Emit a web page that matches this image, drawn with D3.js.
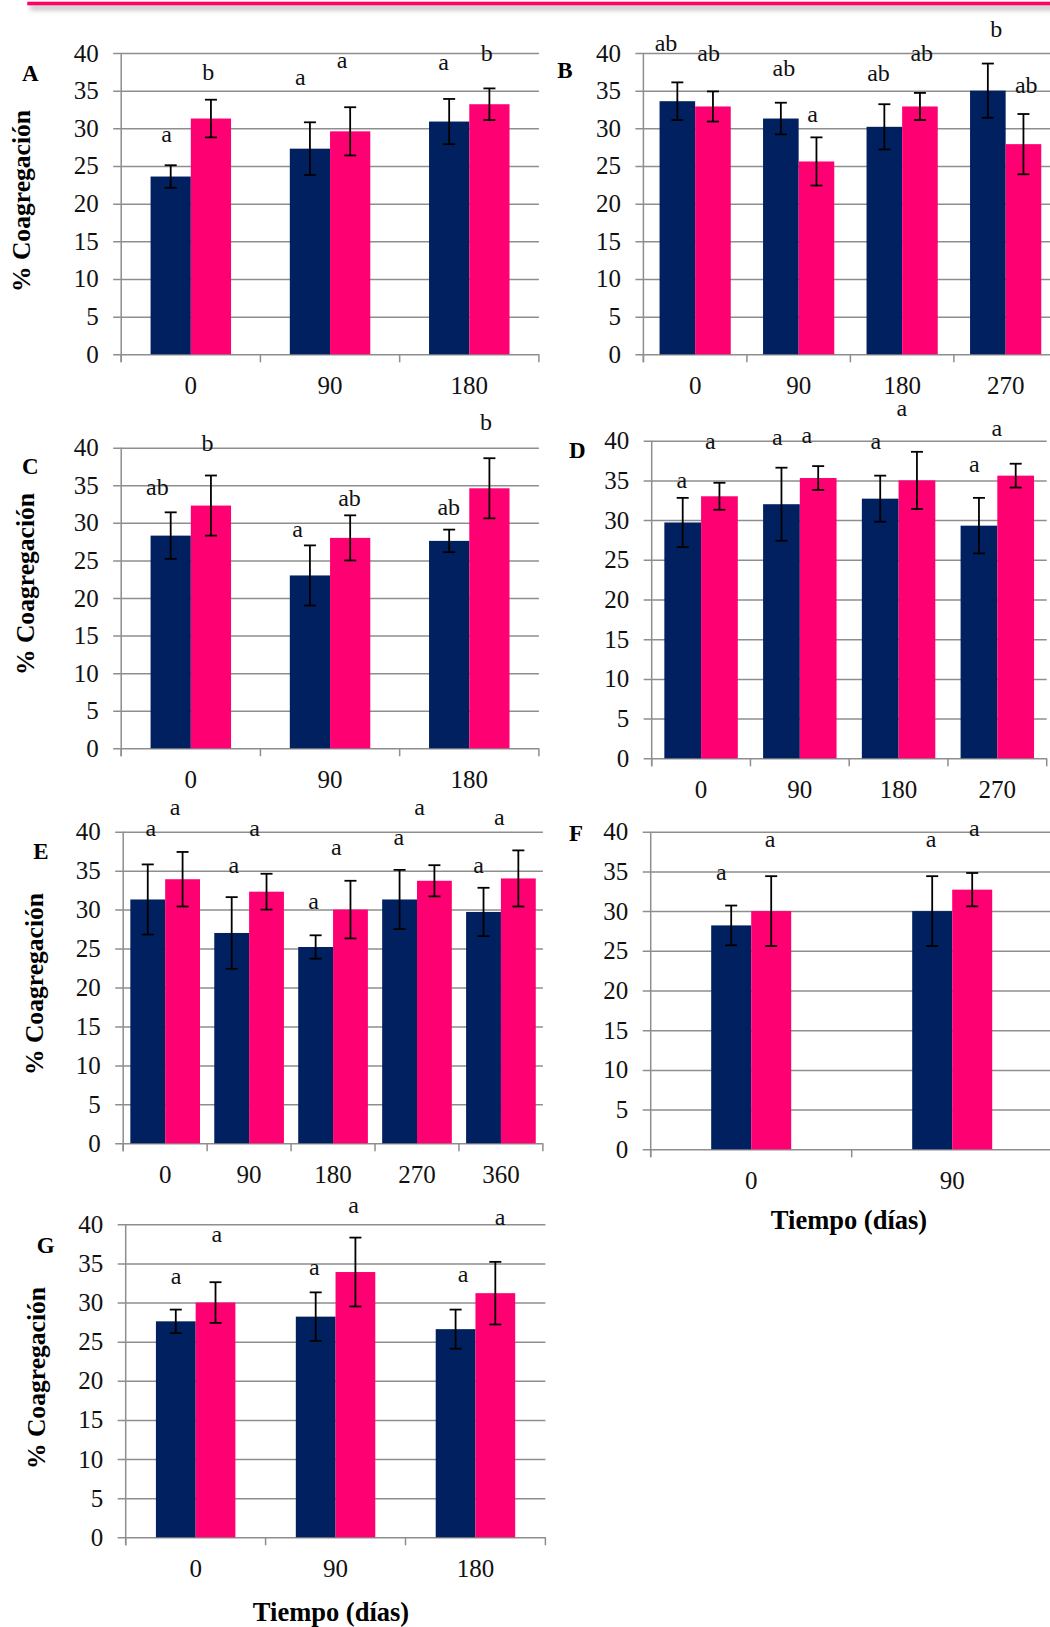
<!DOCTYPE html>
<html>
<head>
<meta charset="utf-8">
<script src="https://cdn.jsdelivr.net/npm/d3@7"></script>
<style>
  html, body { margin: 0; padding: 0; background: #fff; }
  svg, svg text { font-family: "Liberation Serif", "Times New Roman", Times, serif; }
</style>
</head>
<body>
<svg id="chart" width="1050" height="1627"></svg>
<script>
// ---- Data -------------------------------------------------------------
// Y-axis tick values shared by every panel (% coagregación)
const yTicks = [0, 5, 10, 15, 20, 25, 30, 35, 40];

// Panel A
const daysA = ["0", "90", "180"];
const s1A = [23.6, 27.3, 30.9];
const s2A = [31.3, 29.6, 33.2];
const e1A = [1.5, 3.5, 3.0];
const e2A = [2.5, 3.2, 2.1];
const l1A = ["a", "a", "a"];
const l2A = ["b", "a", "b"];

// Panel B
const daysB = ["0", "90", "180", "270"];
const s1B = [33.6, 31.3, 30.2, 35.0];
const s2B = [32.9, 25.6, 32.9, 27.9];
const e1B = [2.5, 2.1, 3.0, 3.6];
const e2B = [2.0, 3.2, 1.8, 4.0];
const l1B = ["ab", "ab", "ab", "b"];
const l2B = ["ab", "a", "ab", "ab"];

// Panel C
const daysC = ["0", "90", "180"];
const s1C = [28.3, 23.0, 27.6];
const s2C = [32.3, 28.0, 34.6];
const e1C = [3.1, 4.0, 1.5];
const e2C = [4.0, 3.0, 4.0];
const l1C = ["ab", "a", "ab"];
const l2C = ["b", "ab", "b"];

// Panel D
const daysD = ["0", "90", "180", "270"];
const s1D = [29.7, 32.0, 32.7, 29.3];
const s2D = [33.0, 35.3, 35.0, 35.6];
const e1D = [3.1, 4.6, 2.9, 3.5];
const e2D = [1.7, 1.5, 3.6, 1.5];
const l1D = ["a", "a", "a", "a"];
const l2D = ["a", "a", "a", "a"];

// Panel E
const daysE = ["0", "90", "180", "270", "360"];
const s1E = [31.3, 27.0, 25.2, 31.3, 29.7];
const s2E = [33.9, 32.3, 30.0, 33.7, 34.0];
const e1E = [4.5, 4.6, 1.5, 3.8, 3.1];
const e2E = [3.5, 2.3, 3.7, 2.0, 3.6];
const l1E = ["a", "a", "a", "a", "a"];
const l2E = ["a", "a", "a", "a", "a"];

// Panel F
const daysF = ["0", "90"];
const s1F = [28.2, 30.0];
const s2F = [30.0, 32.7];
const e1F = [2.5, 4.4];
const e2F = [4.4, 2.1];
const l1F = ["a", "a"];
const l2F = ["a", "a"];

// Panel G
const daysG = ["0", "90", "180"];
const s1G = [27.6, 28.2, 26.6];
const s2G = [30.0, 33.9, 31.2];
const e1G = [1.5, 3.1, 2.5];
const e2G = [2.6, 4.4, 4.0];
const l1G = ["a", "a", "a"];
const l2G = ["a", "a", "a"];

// ---- Layout -----------------------------------------------------------
// Plot frame per panel, bar width as fraction of the category,
// and where each significance letter sits (height in % units, x nudge in px).
const panels = [
  { id: "A", days: daysA, s1: s1A, s2: s2A, e1: e1A, e2: e2A, l1: l1A, l2: l2A,
    x0: 121.2, x1: 538.9, yTop: 53, yZero: 354.3, barFrac: 0.289,
    l1Y: [28.2, 35.8, 37.7], l1Dx: [-4, -9.7, -5.6],
    l2Y: [36.4, 38.0, 39.0], l2Dx: [-2.7, -8, -2.7],
    tag: [30.3, 80.6], title: [30, 201] },
  { id: "B", days: daysB, s1: s1B, s2: s2B, e1: e1B, e2: e2B, l1: l1B, l2: l2B,
    x0: 643.4, x1: 1057.4, yTop: 53, yZero: 354.3, barFrac: 0.344,
    l1Y: [40.3, 37.0, 36.3, 42.1], l1Dx: [-11.3, 3, -5.8, 8.4],
    l2Y: [39.0, 30.9, 39.0, 34.65], l2Dx: [-4.3, -3.9, 1.8, 2.8],
    tag: [565, 77.6], title: null },
  { id: "C", days: daysC, s1: s1C, s2: s2C, e1: e1C, e2: e2C, l1: l1C, l2: l2C,
    x0: 121.2, x1: 538.9, yTop: 447.7, yZero: 748.3, barFrac: 0.289,
    l1Y: [33.7, 28.1, 31.1], l1Dx: [-13.3, -12.4, -0.4],
    l2Y: [39.5, 32.3, 42.3], l2Dx: [-3.4, -0.7, -3.4],
    tag: [30.3, 473.6], title: [34, 584] },
  { id: "D", days: daysD, s1: s1D, s2: s2D, e1: e1D, e2: e2D, l1: l1D, l2: l2D,
    x0: 651.7, x1: 1046.7, yTop: 440.7, yZero: 758.3, barFrac: 0.372,
    l1Y: [34.0, 39.4, 38.9, 36.0], l1Dx: [-1, -4.2, -4.3, -4.7],
    l2Y: [38.9, 39.7, 43.1, 40.6], l2Dx: [-9.2, -11.3, -15.2, -18.9],
    tag: [577.3, 457.6], title: null },
  { id: "E", days: daysE, s1: s1E, s2: s2E, e1: e1E, e2: e2E, l1: l1E, l2: l2E,
    x0: 123.2, x1: 542.9, yTop: 831.7, yZero: 1143.3, barFrac: 0.415,
    l1Y: [39.45, 34.7, 30.1, 38.3, 34.7], l1Dx: [3.2, 2.2, -2.1, -0.7, -5],
    l2Y: [42.2, 39.45, 36.95, 42.2, 40.8], l2Dx: [-7.6, -11.9, -14.1, -14.8, -19.1],
    tag: [41, 859.3], title: [43, 984] },
  { id: "F", days: daysF, s1: s1F, s2: s2F, e1: e1F, e2: e2F, l1: l1F, l2: l2F,
    x0: 650.7, x1: 1052.7, yTop: 831.7, yZero: 1149.3, barFrac: 0.199,
    l1Y: [33.9, 38.1], l1Dx: [-9.9, -1.2],
    l2Y: [38.1, 39.5], l2Dx: [-1.2, 2.1],
    tag: [576, 841], title: null, xTitle: [849, 1229] },
  { id: "G", days: daysG, s1: s1G, s2: s2G, e1: e1G, e2: e2G, l1: l1G, l2: l2G,
    x0: 125.7, x1: 545.4, yTop: 1224.3, yZero: 1537.3, barFrac: 0.284,
    l1Y: [32.4, 33.5, 32.6], l1Dx: [0.2, -1.4, 7.6],
    l2Y: [37.8, 41.5, 39.95], l2Dx: [1.3, -1.8, 4.7],
    tag: [45.7, 1252.6], title: [45, 1378], xTitle: [331, 1621] }
];

const NAVY = "#00205F";
const PINK = "#FF0072";
const GRID = "#8e8e8e";
const SERIF = '"Liberation Serif", "Times New Roman", Times, serif';

const svg = d3.select("#chart");

// Header rule with its soft shadow
const defs = svg.append("defs");
defs.append("filter").attr("id", "ruleShadow")
  .attr("x", "-5%").attr("y", "-300%").attr("width", "110%").attr("height", "700%")
  .append("feGaussianBlur").attr("stdDeviation", 2.6);
svg.append("rect").attr("x", 30).attr("y", 5).attr("width", 1040).attr("height", 5)
  .attr("fill", "#8a8a8a").attr("opacity", 0.55).attr("filter", "url(#ruleShadow)");
svg.append("rect").attr("x", 27.3).attr("y", 1.7).attr("width", 1030).attr("height", 3.6)
  .attr("fill", "#FF0066");

function drawPanel(p) {
  const g = svg.append("g").attr("class", "panel-" + p.id);

  const x = d3.scaleBand().domain(p.days).range([p.x0, p.x1]).padding(0);
  const bw = x.bandwidth() * p.barFrac;
  const xs = d3.scaleBand().domain(["s1", "s2"])
    .range([x.bandwidth() / 2 - bw, x.bandwidth() / 2 + bw]).padding(0);
  const y = d3.scaleLinear().domain([0, 40]).range([p.yZero, p.yTop]);

  // Gridlines, y ticks and labels via the left axis
  const yAxis = d3.axisLeft(y).tickValues(yTicks)
    .tickSizeInner(-(p.x1 - p.x0)).tickSizeOuter(0).tickPadding(22.5);
  const ya = g.append("g").attr("transform", `translate(${p.x0},0)`).call(yAxis);
  ya.attr("font-family", null).attr("font-size", null);
  ya.select(".domain").remove();
  ya.selectAll(".tick line").attr("x1", -8).attr("stroke", GRID).attr("stroke-width", 1.5);
  ya.selectAll(".tick text")
    .attr("x", -22.5)
    .style("font-family", SERIF)
    .style("font-size", "25px").attr("fill", "#111");

  // Vertical axis line and category-boundary ticks
  g.append("line").attr("x1", p.x0).attr("x2", p.x0)
    .attr("y1", p.yTop).attr("y2", p.yZero + 8)
    .attr("stroke", GRID).attr("stroke-width", 1.5);
  const bounds = d3.range(p.days.length + 1).map(i => p.x0 + i * x.step());
  g.selectAll("line.xtick").data(bounds).join("line").attr("class", "xtick")
    .attr("x1", d => d).attr("x2", d => d)
    .attr("y1", p.yZero).attr("y2", p.yZero + 8)
    .attr("stroke", GRID).attr("stroke-width", 1.5);

  // Category labels via the bottom axis
  const xa = g.append("g").attr("transform", `translate(0,${p.yZero})`)
    .call(d3.axisBottom(x).tickSize(0));
  xa.attr("font-family", null).attr("font-size", null);
  xa.select(".domain").remove();
  xa.selectAll(".tick text").attr("y", 40).attr("dy", null)
    .style("font-family", SERIF)
    .style("font-size", "25px").attr("fill", "#111");

  // Bars
  const rows = p.days.map((d, i) => ([
    { day: d, key: "s1", v: p.s1[i], e: p.e1[i], lab: p.l1[i], ly: p.l1Y[i], dx: p.l1Dx[i], c: NAVY },
    { day: d, key: "s2", v: p.s2[i], e: p.e2[i], lab: p.l2[i], ly: p.l2Y[i], dx: p.l2Dx[i], c: PINK }
  ])).flat();

  const cx = r => x(r.day) + xs(r.key) + xs.bandwidth() / 2;

  g.selectAll("rect.bar").data(rows).join("rect").attr("class", "bar")
    .attr("x", r => x(r.day) + xs(r.key))
    .attr("width", xs.bandwidth())
    .attr("y", r => y(r.v))
    .attr("height", r => y(0) - y(r.v))
    .attr("fill", r => r.c);

  // Error bars
  const eb = g.selectAll("g.err").data(rows).join("g").attr("class", "err")
    .attr("stroke", "#000").attr("stroke-width", 1.8);
  eb.append("line").attr("x1", cx).attr("x2", cx)
    .attr("y1", r => y(r.v + r.e)).attr("y2", r => y(r.v - r.e));
  eb.append("line").attr("x1", r => cx(r) - 6).attr("x2", r => cx(r) + 6)
    .attr("y1", r => y(r.v + r.e)).attr("y2", r => y(r.v + r.e));
  eb.append("line").attr("x1", r => cx(r) - 6).attr("x2", r => cx(r) + 6)
    .attr("y1", r => y(r.v - r.e)).attr("y2", r => y(r.v - r.e));

  // Significance letters
  g.selectAll("text.sig").data(rows).join("text").attr("class", "sig")
    .attr("x", r => cx(r) + r.dx)
    .attr("y", r => y(r.ly))
    .attr("text-anchor", "middle")
    .style("font-family", SERIF).style("font-size", "24px").attr("fill", "#111")
    .text(r => r.lab);

  // Panel tag
  g.append("text").attr("x", p.tag[0]).attr("y", p.tag[1])
    .attr("text-anchor", "middle")
    .style("font-family", SERIF).style("font-size", "23px").style("font-weight", "bold")
    .attr("fill", "#000").text(p.id);

  // Y title
  if (p.title) {
    g.append("text")
      .attr("transform", `translate(${p.title[0]},${p.title[1]}) rotate(-90)`)
      .attr("text-anchor", "middle")
      .style("font-family", SERIF).style("font-size", "25.6px").style("font-weight", "bold")
      .attr("fill", "#000").text("% Coagregación");
  }
  // X title
  if (p.xTitle) {
    g.append("text").attr("x", p.xTitle[0]).attr("y", p.xTitle[1])
      .attr("text-anchor", "middle")
      .style("font-family", SERIF).style("font-size", "26.5px").style("font-weight", "bold")
      .attr("fill", "#000").text("Tiempo (días)");
  }
}

panels.forEach(drawPanel);
</script>
</body>
</html>
